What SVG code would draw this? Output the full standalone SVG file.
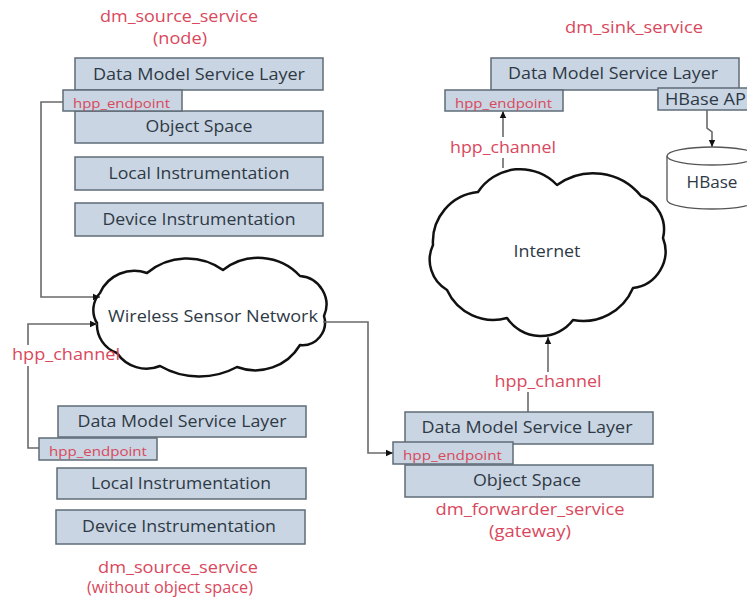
<svg xmlns="http://www.w3.org/2000/svg" width="747" height="598" viewBox="0 0 747 598">
<style>
.box{fill:#c9d5e2;stroke:#5f6c78;stroke-width:1.5}
.t{font-family:"Open Sans","Noto Sans",sans-serif;font-size:16px;fill:#2e3946}
.r{font-family:"Open Sans","Noto Sans",sans-serif;font-size:16px;fill:#d9485c}
.ep{font-family:"Open Sans","Noto Sans",sans-serif;font-size:13px;fill:#d9485c}
.c{text-anchor:middle}
.cloud{fill:#fff;stroke:#111;stroke-width:2.5;stroke-linejoin:round}
.ln{fill:none;stroke:#6a6a6a;stroke-width:1.6}
</style>
<defs>
<marker id="ah" markerWidth="8" markerHeight="8" refX="7" refY="4" orient="auto" markerUnits="userSpaceOnUse">
<path d="M0,0.8 L7,4 L0,7.2 Z" fill="#111"/>
</marker>
</defs>
<rect width="747" height="598" fill="#fff"/>

<g id="wsn">
<path class="cloud" d="M100,293 A37.5,37.5 0 0 1 147,273 A62,62 0 0 1 223,270 A57,57 0 0 1 300,276 A28.6,28.6 0 0 1 324,316 A22.6,22.6 0 0 1 300,345 A52,52 0 0 1 237,367 A79,79 0 0 1 160,366 A35.6,35.6 0 0 1 117,353 A30,30 0 0 1 97,323 A25,25 0 0 1 100,293 Z"/>
<text class="t c" x="213" y="322" textLength="210" lengthAdjust="spacingAndGlyphs">Wireless Sensor Network</text>
</g>

<g id="internet">
<path class="cloud" d="M433,245 A50,50 0 0 1 478,192 A50.5,50.5 0 0 1 557,185 A61.6,61.6 0 0 1 641,196 A35.8,35.8 0 0 1 663,238 A37,37 0 0 1 633,288 A54,54 0 0 1 573,320 A40.5,40.5 0 0 1 507,318 A51,51 0 0 1 447,290 A35,35 0 0 1 433,245 Z"/>
<text class="t c" x="547" y="257" textLength="67" lengthAdjust="spacingAndGlyphs">Internet</text>
</g>

<g id="connectors">
<path class="ln" d="M63,102 H41 V297 H100" marker-end="url(#ah)"/>
<path class="ln" d="M39,448 H28 V366"/>
<path class="ln" d="M28,345 V324 H97" marker-end="url(#ah)"/>
<path class="ln" d="M323,322 H368 V453 H393" marker-end="url(#ah)"/>
<path class="ln" d="M528,412 V392"/>
<path class="ln" d="M548,372 V337" marker-end="url(#ah)"/>
<path class="ln" d="M503,168 V158"/>
<path class="ln" d="M503,137 V111" marker-end="url(#ah)"/>
<path class="ln" d="M707,110 V128 L712,132 V147" marker-end="url(#ah)"/>
</g>

<g id="source-node">
<text class="r c" x="179" y="22" textLength="158" lengthAdjust="spacingAndGlyphs">dm_source_service</text>
<text class="r c" x="180" y="44" textLength="54" lengthAdjust="spacingAndGlyphs">(node)</text>
<rect class="box" x="75" y="58" width="248" height="32"/>
<text class="t c" x="199" y="80" textLength="212" lengthAdjust="spacingAndGlyphs">Data Model Service Layer</text>
<rect class="box" x="75" y="111" width="248" height="32"/>
<text class="t c" x="199" y="132" textLength="107" lengthAdjust="spacingAndGlyphs">Object Space</text>
<rect class="box" x="63" y="90" width="119" height="21"/>
<text class="ep" x="73" y="108" textLength="97" lengthAdjust="spacingAndGlyphs">hpp_endpoint</text>
<rect class="box" x="75" y="157" width="248" height="33"/>
<text class="t c" x="199" y="179" textLength="181" lengthAdjust="spacingAndGlyphs">Local Instrumentation</text>
<rect class="box" x="75" y="203" width="248" height="33"/>
<text class="t c" x="199" y="225" textLength="193" lengthAdjust="spacingAndGlyphs">Device Instrumentation</text>
</g>

<g id="source-noos">
<text class="r c" x="66" y="360" textLength="108" lengthAdjust="spacingAndGlyphs">hpp_channel</text>
<rect class="box" x="58" y="406" width="248" height="31"/>
<text class="t c" x="182" y="427" textLength="209" lengthAdjust="spacingAndGlyphs">Data Model Service Layer</text>
<rect class="box" x="39" y="438" width="118" height="22"/>
<text class="ep" x="49" y="456" textLength="98" lengthAdjust="spacingAndGlyphs">hpp_endpoint</text>
<rect class="box" x="57" y="468" width="249" height="31"/>
<text class="t c" x="181" y="489" textLength="180" lengthAdjust="spacingAndGlyphs">Local Instrumentation</text>
<rect class="box" x="56" y="510" width="249" height="34"/>
<text class="t c" x="179" y="532" textLength="194" lengthAdjust="spacingAndGlyphs">Device Instrumentation</text>
<text class="r c" x="178" y="573" textLength="160" lengthAdjust="spacingAndGlyphs">dm_source_service</text>
<text class="r c" x="170" y="593" textLength="166" lengthAdjust="spacingAndGlyphs">(without object space)</text>
</g>

<g id="forwarder">
<text class="r c" x="548" y="387" textLength="107" lengthAdjust="spacingAndGlyphs">hpp_channel</text>
<rect class="box" x="405" y="412" width="248" height="32"/>
<text class="t c" x="527" y="433" textLength="211" lengthAdjust="spacingAndGlyphs">Data Model Service Layer</text>
<rect class="box" x="405" y="465" width="248" height="32"/>
<text class="t c" x="527" y="486" textLength="108" lengthAdjust="spacingAndGlyphs">Object Space</text>
<rect class="box" x="393" y="442" width="120" height="22"/>
<text class="ep" x="403" y="460" textLength="99" lengthAdjust="spacingAndGlyphs">hpp_endpoint</text>
<text class="r c" x="530" y="515" textLength="189" lengthAdjust="spacingAndGlyphs">dm_forwarder_service</text>
<text class="r c" x="530" y="537" textLength="82" lengthAdjust="spacingAndGlyphs">(gateway)</text>
</g>

<g id="sink">
<text class="r c" x="634" y="33" textLength="138" lengthAdjust="spacingAndGlyphs">dm_sink_service</text>
<rect class="box" x="491" y="58" width="248" height="32"/>
<text class="t c" x="613" y="79" textLength="210" lengthAdjust="spacingAndGlyphs">Data Model Service Layer</text>
<rect class="box" x="445" y="90" width="118" height="21"/>
<text class="ep" x="455" y="108" textLength="97" lengthAdjust="spacingAndGlyphs">hpp_endpoint</text>
<text class="r c" x="503" y="153" textLength="106" lengthAdjust="spacingAndGlyphs">hpp_channel</text>
<rect class="box" x="658" y="88" width="100" height="22"/>
<text class="t" x="665" y="105" textLength="86" lengthAdjust="spacingAndGlyphs">HBase API</text>
</g>

<g id="hbase">
<path d="M667,156 V200 A45,9 0 0 0 757,200 V156" fill="#fff" stroke="#555" stroke-width="1.3"/>
<ellipse cx="712" cy="156" rx="45" ry="9" fill="#fff" stroke="#555" stroke-width="1.3"/>
<text class="t c" x="712" y="188" textLength="51" lengthAdjust="spacingAndGlyphs">HBase</text>
</g>
</svg>
